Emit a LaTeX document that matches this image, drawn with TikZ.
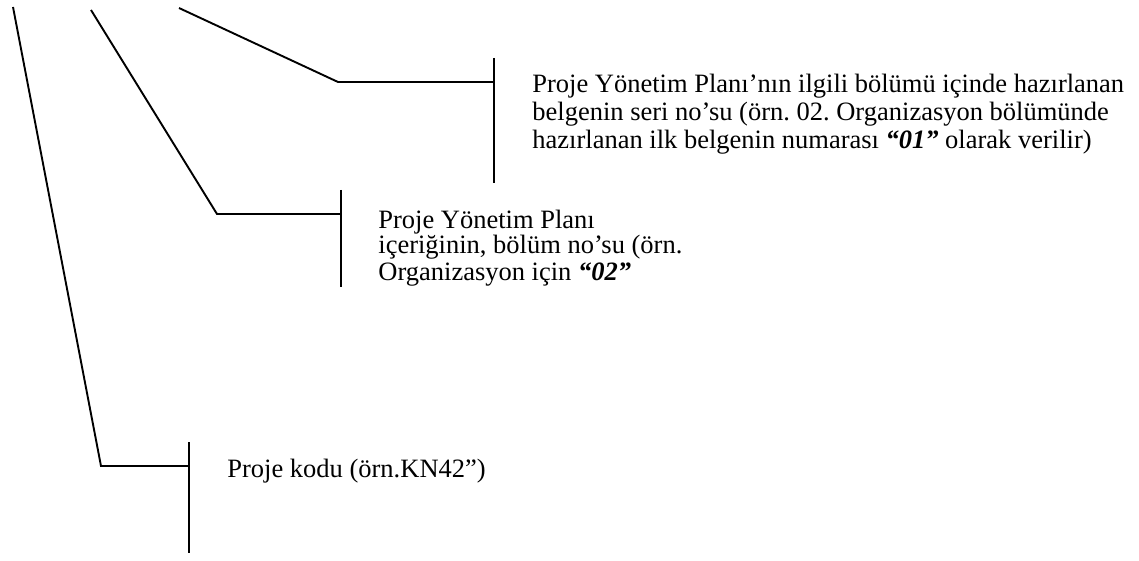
\documentclass[tikz,border=0pt]{standalone}
\usepackage{fontspec}
\setmainfont{Liberation Serif}
\frenchspacing
\begin{document}
\begin{tikzpicture}[x=0.5pt,y=-0.5pt,
  leader/.style={line width=0.95pt,line join=miter},
  bar/.style={line width=0.95pt},
  txt/.style={anchor=base west,inner sep=0pt,font=\fontsize{13.25}{15}\selectfont}]
\useasboundingbox (0,0) rectangle (1139,561);
% leader 1: project code
\coordinate (s1) at (13,7);
\coordinate (k1) at (101,466);
\coordinate (j1) at (189,466);
\coordinate (t1) at (189,442);
\coordinate (u1) at (189,553);
% leader 2: section number
\coordinate (s2) at (91,10);
\coordinate (k2) at (217,214);
\coordinate (j2) at (341,214);
\coordinate (t2) at (341,190);
\coordinate (u2) at (341,287);
% leader 3: serial number
\coordinate (s3) at (179,8);
\coordinate (k3) at (338,82);
\coordinate (j3) at (494,82);
\coordinate (t3) at (494,58);
\coordinate (u3) at (494,183);
\draw[leader] (s1) -- (k1) -- (j1);
\draw[bar] (t1) -- (u1);
\draw[leader] (s2) -- (k2) -- (j2);
\draw[bar] (t2) -- (u2);
\draw[leader] (s3) -- (k3) -- (j3);
\draw[bar] (t3) -- (u3);
% texts
\node[txt] (a1) at (532,93) {Proje Yönetim Planı’nın ilgili bölümü içinde hazırlanan};
\node[txt] (a2) at (532,121) {belgenin seri no’su (örn. 02. Organizasyon bölümünde};
\node[txt] (a3) at (532,149) {hazırlanan ilk belgenin numarası \textbf{\textit{“01”}} olarak verilir)};
\node[txt] (b1) at (378,228) {Proje Yönetim Planı};
\node[txt] (b2) at (378,254) {içeriğinin, bölüm no’su (örn.};
\node[txt] (b3) at (378,280) {Organizasyon için \textbf{\textit{“02”}}};
\node[txt] (c1) at (227,477) {Proje kodu (örn.KN42”)};
\end{tikzpicture}
\end{document}
